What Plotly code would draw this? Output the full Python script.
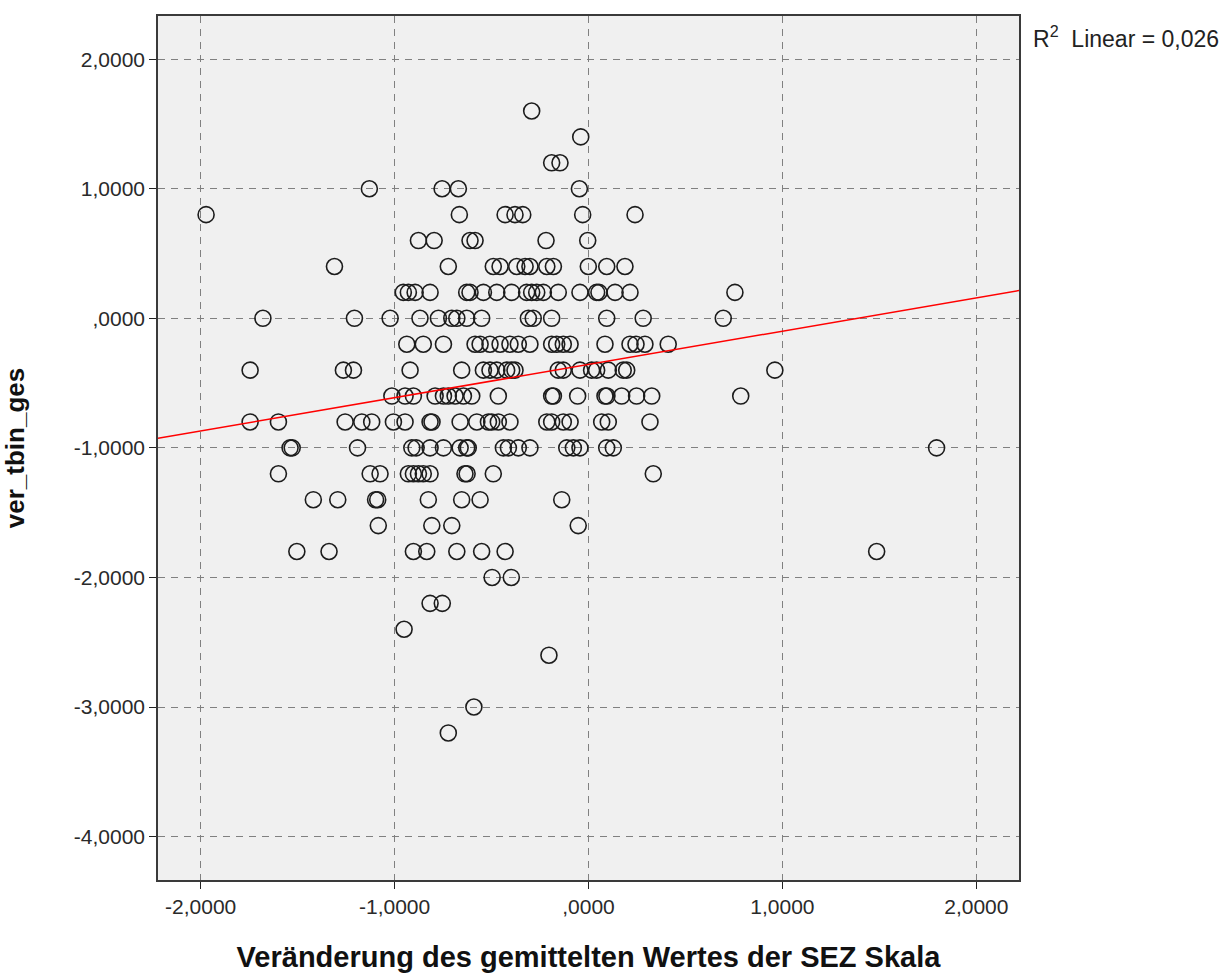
import numpy as np
import plotly.graph_objects as go

# Change in mean SEZ scale score (x) grouped by ver_tbin_ges level (y)
rows_y = [1.6, 1.4, 1.2, 1.0, 0.8, 0.6, 0.4, 0.2, 0.0, -0.2, -0.4, -0.6, -0.8,
          -1.0, -1.2, -1.4, -1.6, -1.8, -2.0, -2.2, -2.4, -2.6, -3.0, -3.2]
rows_x = [
    [-0.293],
    [-0.040],
    [-0.190, -0.147],
    [-1.130, -0.755, -0.671, -0.047],
    [-1.972, -0.666, -0.430, -0.379, -0.339, -0.030, 0.240],
    [-0.877, -0.796, -0.611, -0.585, -0.219, -0.004],
    [-1.310, -0.723, -0.491, -0.456, -0.370, -0.327, -0.302, -0.215, -0.181,
     -0.001, 0.094, 0.188],
    [-0.955, -0.929, -0.894, -0.817, -0.628, -0.611, -0.542, -0.473, -0.396,
     -0.319, -0.293, -0.267, -0.233, -0.156, -0.044, 0.042, 0.054, 0.137,
     0.214, 0.755],
    [-1.679, -1.207, -1.023, -0.869, -0.774, -0.705, -0.679, -0.628, -0.551,
     -0.310, -0.285, -0.190, 0.094, 0.282, 0.695],
    [-0.937, -0.852, -0.748, -0.585, -0.559, -0.508, -0.456, -0.405, -0.362,
     -0.302, -0.190, -0.164, -0.130, -0.095, 0.085, 0.214, 0.245, 0.291,
     0.411],
    [-1.745, -1.264, -1.212, -0.920, -0.654, -0.542, -0.508, -0.473, -0.422,
     -0.396, -0.379, -0.156, -0.130, -0.044, 0.016, 0.042, 0.102, 0.179,
     0.197, 0.961],
    [-1.014, -0.946, -0.903, -0.791, -0.748, -0.723, -0.688, -0.645, -0.602,
     -0.465, -0.190, -0.181, -0.056, 0.085, 0.095, 0.171, 0.248, 0.326,
     0.785],
    [-1.745, -1.599, -1.255, -1.169, -1.118, -1.006, -0.946, -0.817, -0.807,
     -0.662, -0.576, -0.516, -0.499, -0.465, -0.405, -0.215, -0.190, -0.130,
     -0.095, 0.068, 0.102, 0.317],
    [-1.539, -1.528, -1.191, -0.911, -0.889, -0.817, -0.748, -0.662, -0.628,
     -0.620, -0.439, -0.413, -0.362, -0.302, -0.112, -0.078, -0.044, 0.094,
     0.128, 1.795],
    [-1.599, -1.126, -1.075, -0.929, -0.903, -0.877, -0.852, -0.817, -0.637,
     -0.626, -0.491, 0.334],
    [-1.419, -1.293, -1.098, -1.087, -0.826, -0.654, -0.559, -0.138],
    [-1.084, -0.808, -0.705, -0.053],
    [-1.504, -1.338, -0.903, -0.834, -0.679, -0.551, -0.430, 1.486],
    [-0.497, -0.398],
    [-0.817, -0.754],
    [-0.951],
    [-0.204],
    [-0.591],
    [-0.723],
]

x_tick_vals = [-2, -1, 0, 1, 2]
x_tick_text = ["-2,0000", "-1,0000", ",0000", "1,0000", "2,0000"]
y_tick_vals = [2, 1, 0, -1, -2, -3, -4]
y_tick_text = ["2,0000", "1,0000", ",0000", "-1,0000", "-2,0000", "-3,0000", "-4,0000"]

x_title = "Veränderung des gemittelten Wertes der SEZ Skala"
y_title = "ver_tbin_ges"
r2_text = "R<sup>2</sup>  Linear = 0,026"

x_range = [-2.22, 2.22]
y_range = [-4.335, 2.333]

xs = np.array([v for row in rows_x for v in row])
ys = np.array([y for y, row in zip(rows_y, rows_x) for _ in row])

# Least-squares fit line across the full x range
slope, intercept = np.polyfit(xs, ys, 1)
fit_x = np.array(x_range)
fit_y = intercept + slope * fit_x

FONT = "Liberation Sans, Arial"

fig = go.Figure()
fig.add_trace(go.Scatter(
    x=xs, y=ys, mode="markers",
    marker=dict(symbol="circle-open", size=16, color="#1c1c1c",
                line=dict(width=1.6, color="#1c1c1c")),
    hoverinfo="x+y", showlegend=False,
))
fig.add_trace(go.Scatter(
    x=fit_x, y=fit_y, mode="lines",
    line=dict(color="#ff0000", width=1.5),
    hoverinfo="skip", showlegend=False,
))

axis_common = dict(
    showline=True, mirror=True, linecolor="#3a3a3a", linewidth=1.5,
    ticks="outside", ticklen=7, tickwidth=1.3, tickcolor="#222222",
    showgrid=True, gridcolor="#808080", gridwidth=1.3, griddash="7px,6px",
    zeroline=False,
    tickfont=dict(family=FONT, size=21, color="#2a2a2a"),
)

fig.update_xaxes(
    range=x_range, tickmode="array", tickvals=x_tick_vals, ticktext=x_tick_text,
    title=dict(text=x_title, standoff=30,
               font=dict(family=FONT, size=29, color="#111111", weight="bold")),
    **axis_common,
)
fig.update_yaxes(
    range=y_range, tickmode="array", tickvals=y_tick_vals, ticktext=y_tick_text,
    title=dict(text=y_title, standoff=42,
               font=dict(family=FONT, size=26, color="#111111", weight="bold")),
    **axis_common,
)

fig.add_annotation(
    text=r2_text, xref="paper", yref="paper", x=1.0, y=1.0,
    xanchor="left", yanchor="top", xshift=12, yshift=-4, showarrow=False,
    font=dict(family=FONT, size=23, color="#222222"),
)

fig.update_layout(
    width=1231, height=979,
    margin=dict(l=158, r=212, t=16, b=99),
    plot_bgcolor="#f0f0f0", paper_bgcolor="#ffffff",
)

fig.write_html("out.html")
